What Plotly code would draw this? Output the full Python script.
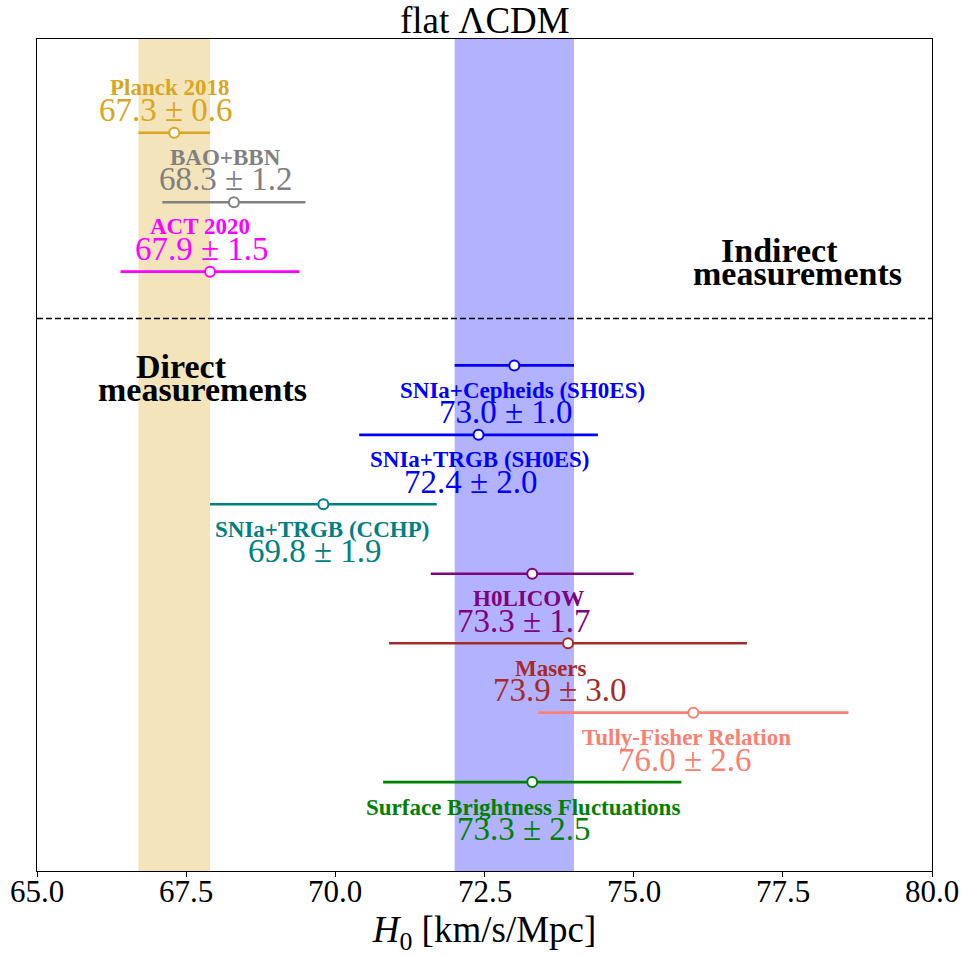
import plotly.graph_objects as go

# H0 measurements (km/s/Mpc)
indirect_names = ["Planck 2018", "BAO+BBN", "ACT 2020"]
indirect_h0 = [67.3, 68.3, 67.9]
indirect_err = [0.6, 1.2, 1.5]
indirect_colors = ["#DAA520", "#808080", "#FF00FF"]

direct_names = ["SNIa+Cepheids (SH0ES)", "SNIa+TRGB (SH0ES)", "SNIa+TRGB (CCHP)",
                "H0LICOW", "Masers", "Tully-Fisher Relation",
                "Surface Brightness Fluctuations"]
direct_h0 = [73.0, 72.4, 69.8, 73.3, 73.9, 76.0, 73.3]
direct_err = [1.0, 2.0, 1.9, 1.7, 3.0, 2.6, 2.5]
direct_colors = ["#0000FF", "#0000FF", "#008080", "#800080", "#A52A2A",
                 "#FA8072", "#008000"]

x_ticks = [65.0, 67.5, 70.0, 72.5, 75.0, 77.5, 80.0]

SERIF = "Liberation Serif"
GAP = 1.35  # extra space between the indirect and direct groups

# horizontal nudges (px) of the name labels
indirect_name_dx = [-5, -8, -10]
direct_name_dx = [8, 1, -1, -4, -17, -7, -9]

# row positions (reversed y axis)
y_ind = [float(i) for i in range(len(indirect_names))]
y_dir = [len(indirect_names) - 1 + GAP + i for i in range(len(direct_names))]
y_split = (y_ind[-1] + y_dir[0]) / 2
y_top = -GAP
y_bot = y_dir[-1] + 1.28

fig = go.Figure()

# reference bands: Planck and SH0ES 1-sigma
bands = [(indirect_h0[0], indirect_err[0], "rgba(218,165,32,0.3)"),
         (direct_h0[0], direct_err[0], "rgba(0,0,255,0.3)")]
for m, e, c in bands:
    fig.add_shape(type="rect", xref="x", yref="y", x0=m - e, x1=m + e,
                  y0=y_top, y1=y_bot, fillcolor=c, line_width=0, layer="below")

# split between indirect and direct
fig.add_shape(type="line", xref="paper", yref="y", x0=0, x1=1, y0=y_split, y1=y_split,
              line=dict(color="black", width=1.5, dash="6px,3px"))

annotations = []


def add_points(names, h0, err, colors, ys, name_dx, above):
    for n, m, e, c, y, dx in zip(names, h0, err, colors, ys, name_dx):
        fig.add_trace(go.Scatter(x=[m - e, m + e], y=[y, y], mode="lines",
                                 line=dict(color=c, width=2.6), showlegend=False,
                                 hoverinfo="skip"))
        fig.add_trace(go.Scatter(x=[m], y=[y], mode="markers",
                                 marker=dict(size=10, color="white",
                                             line=dict(color=c, width=2)),
                                 showlegend=False, name=n))
        if above:
            dn, dv = 45, 23
        else:
            dn, dv = -25, -47
        annotations.append(dict(x=m, y=y, xref="x", yref="y", text=f"<b>{n}</b>",
                                showarrow=False, yshift=dn, xshift=dx,
                                font=dict(family=SERIF, size=23, color=c)))
        annotations.append(dict(x=m, y=y, xref="x", yref="y",
                                text=f"{m:.1f} ± {e:.1f}", showarrow=False,
                                yshift=dv, xshift=-8,
                                font=dict(family=SERIF, size=33, color=c)))


add_points(indirect_names, indirect_h0, indirect_err, indirect_colors, y_ind,
           indirect_name_dx, True)
add_points(direct_names, direct_h0, direct_err, direct_colors, y_dir,
           direct_name_dx, False)

# group labels
group_labels = [("Indirect", 77.45, 1.69), ("measurements", 77.74, 2.03),
                ("Direct", 67.43, 3.37), ("measurements", 67.78, 3.70)]
for t, x, y in group_labels:
    annotations.append(dict(x=x, y=y, xref="x", yref="y", text=f"<b>{t}</b>",
                            showarrow=False,
                            font=dict(family=SERIF, size=34, color="black")))

# x tick labels
for v in x_ticks:
    annotations.append(dict(x=v, y=0, xref="x", yref="paper", yanchor="top",
                            yshift=-1, text=f"{v:.1f}", showarrow=False,
                            font=dict(family=SERIF, size=31, color="black")))

annotations.append(dict(x=0.5, y=1, xref="paper", yref="paper", yanchor="bottom",
                        yshift=-4, text="flat ΛCDM", showarrow=False,
                        font=dict(family=SERIF, size=37, color="black")))

fig.update_layout(
    width=962, height=956,
    margin=dict(l=37, r=30, t=39, b=85, autoexpand=False),
    plot_bgcolor="white", paper_bgcolor="white",
    annotations=annotations,
    font=dict(family=SERIF, color="black"),
)
fig.update_xaxes(range=[65, 80], tickvals=x_ticks, showticklabels=False,
                 ticks="outside", ticklen=5, tickwidth=1, tickcolor="black",
                 automargin=False,
                 showline=True, linecolor="black", linewidth=1, mirror=True,
                 showgrid=False, zeroline=False,
                 title=dict(text="<i>H</i><sub>0</sub> [km/s/Mpc]",
                            font=dict(family=SERIF, size=37, color="black"),
                            standoff=47))
fig.update_yaxes(range=[y_bot, y_top], showticklabels=False, ticks="",
                 automargin=False,
                 showline=True, linecolor="black", linewidth=1, mirror=True,
                 showgrid=False, zeroline=False)

fig.write_html("out.html")
